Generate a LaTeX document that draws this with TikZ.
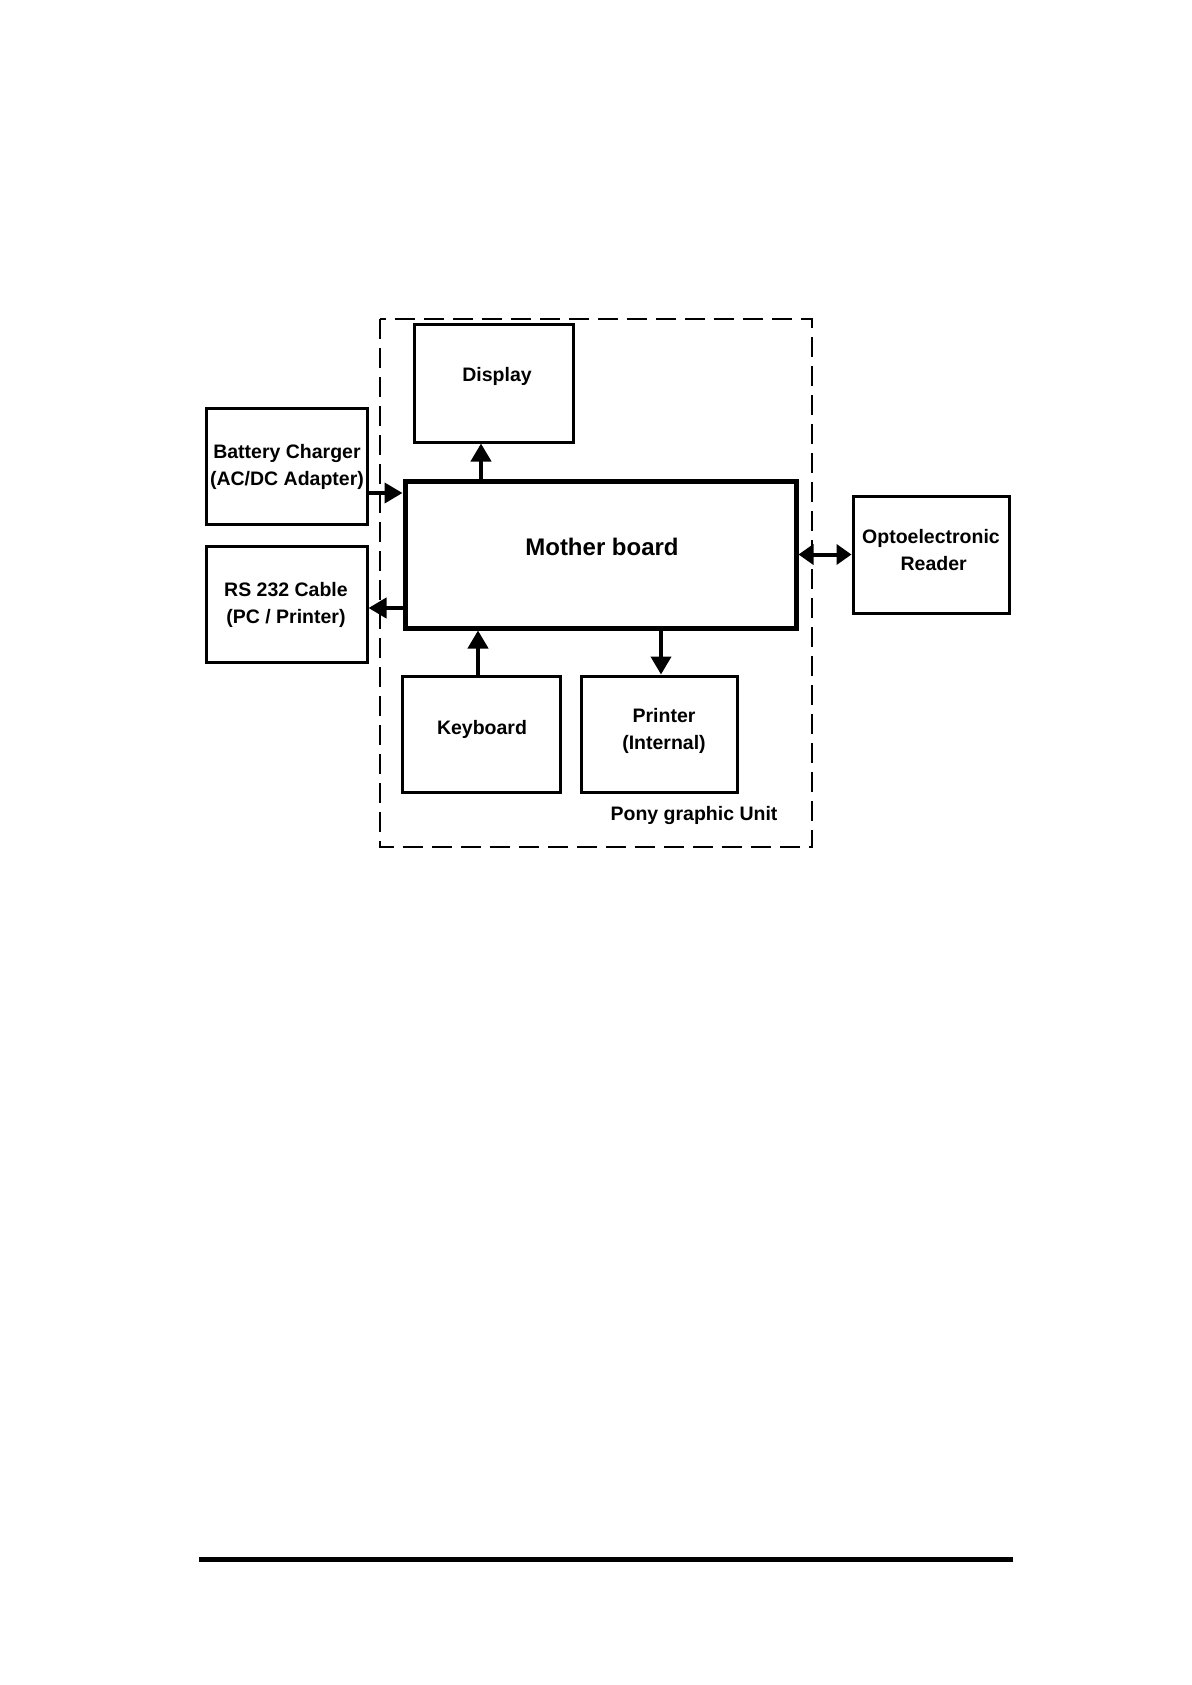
\documentclass[tikz,border=0pt]{standalone}
\usepackage{fontspec}
\setmainfont{Liberation Sans}
\usetikzlibrary{arrows.meta}
\begin{document}
\begin{tikzpicture}[x=1pt,y=-1pt,
  box/.style={draw, line width=3pt, inner sep=0pt},
  lbl/.style={align=center, font=\fontsize{19.5}{27}\selectfont\bfseries, inner sep=0pt},
  arr/.style={line width=4pt, -{Triangle[width=20pt,length=18pt]}},
  darr/.style={line width=4pt, {Triangle[width=20pt,length=15pt]}-{Triangle[width=20pt,length=15pt]}},
  unit/.style={line width=1.5pt, dash pattern=on 20pt off 9pt}]
\fill[white] (0,0) rectangle (1191,1685);
\useasboundingbox (0,0) rectangle (1191,1685);
% dashed unit boundary
\draw[unit] (380,319) rectangle (812,847);
% boxes
\node[box, minimum width=159pt, minimum height=118pt] (display) at (493.5,383) {};
\node[lbl] (displaytxt) at (497,376) {Display};
\node[box, minimum width=161pt, minimum height=116pt] (battery) at (286.5,466) {};
\node[lbl] (batterytxt) at (287,467) {Battery Charger\\(AC/DC Adapter)};
\node[box, minimum width=161pt, minimum height=116pt] (rs) at (286.5,604) {};
\node[lbl] (rstxt) at (286,605) {RS 232 Cable\\(PC / Printer)};
\node[box, line width=5pt, minimum width=391pt, minimum height=147pt] (mother) at (600.5,554.5) {};
\node[lbl, font=\fontsize{24}{28}\selectfont\bfseries] (mothertxt) at (602,547) {Mother board};
\node[box, minimum width=156pt, minimum height=117pt] (opto) at (931,554.5) {};
\node[lbl] (optotxt) at (931,550) {Optoelectronic\\\ Reader};
\node[box, minimum width=158pt, minimum height=116pt] (keyboard) at (481,734) {};
\node[lbl] (keyboardtxt) at (482,729) {Keyboard};
\node[box, minimum width=156pt, minimum height=116pt] (printer) at (659,734) {};
\node[lbl] (printertxt) at (664,731) {Printer\\(Internal)};
\node[lbl] (pony) at (694,815) {Pony graphic Unit};
% connectors
\draw[arr] ([xshift=-12.5pt]display.south |- mother.north) -- ([xshift=-12.5pt]display.south);
\draw[arr] ([yshift=-27pt]battery.east) -- ([yshift=-27pt]battery.east -| mother.west);
\draw[arr] ([yshift=-4pt]rs.east -| mother.west) -- ([yshift=-4pt]rs.east);
\draw[arr] ([xshift=-3pt]keyboard.north) -- ([xshift=-3pt]keyboard.north |- mother.south);
\draw[arr] ([xshift=2pt]printer.north |- mother.south) -- ([xshift=2pt]printer.north);
\draw[darr] (mother.east) -- (opto.west);
% footer rule
\coordinate (ruleL) at (199,1559);
\coordinate (ruleR) at (1013,1559);
\draw[line width=5pt] (ruleL) -- (ruleR);
\end{tikzpicture}
\end{document}
